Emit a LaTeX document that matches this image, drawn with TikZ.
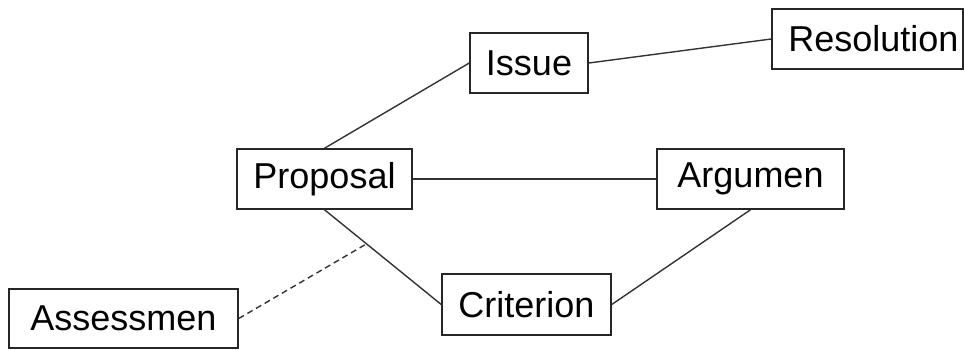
\documentclass[tikz,border=0pt]{standalone}
\usepackage{fontspec}
\setmainfont{Liberation Sans}
\begin{document}
\begin{tikzpicture}[x=0.5pt,y=-0.5pt,
  box/.style={draw=black!85,line width=0.75pt,fill=white,inner sep=0pt,
    font=\fontsize{18}{20}\selectfont,text=black},
  conn/.style={draw=black!80,line width=0.7pt},
  dconn/.style={conn,dash pattern=on 3pt off 2pt}]
\useasboundingbox (0,0) rectangle (964,349);
\node[box,minimum width=59pt,minimum height=30pt] (issue) at (529,63) {Issue};
\node[box,minimum width=95.5pt,minimum height=30pt,text width=91pt,align=right] (res) at (867.5,39) {Resolution};
\node[box,minimum width=87.5pt,minimum height=30pt] (prop) at (324.5,179) {Proposal};
\node[box,minimum width=93.5pt,minimum height=30pt] (arg) at (750.5,179) {Argumen};
\node[box,minimum width=84.5pt,minimum height=30.5pt] (crit) at (526.5,304.5) {Criterion};
\node[box,minimum width=114.5pt,minimum height=29.5pt] (ass) at (123.5,318.5) {Assessmen};
\draw[conn] (prop.north) -- (issue.west);
\draw[conn] (issue.east) -- (res.west);
\draw[conn] (prop.east) -- (arg.west);
\draw[conn] (prop.south) -- coordinate[pos=0.36] (m) (crit.west);
\draw[conn] (arg.south) -- (crit.east);
\draw[dconn] (ass.east) -- (m);
\end{tikzpicture}
\end{document}
